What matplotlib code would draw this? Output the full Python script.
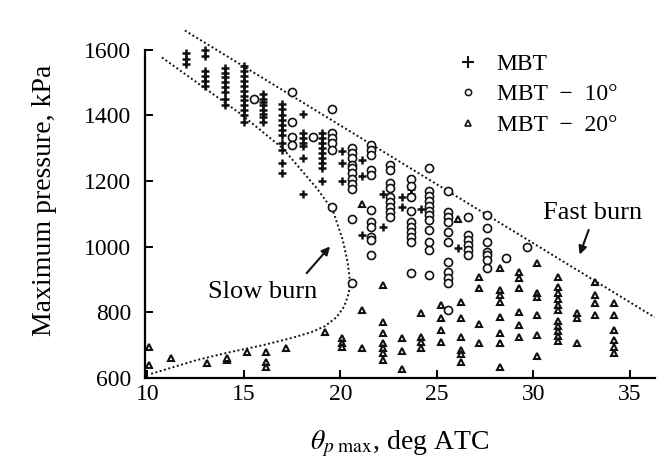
import matplotlib.pyplot as plt
from matplotlib.lines import Line2D

# MBT timing (crosses): column x and pressures in that column
mbt_x = [12.0, 13.0, 14.0, 15.0, 16.0, 17.0, 18.05, 19.05, 20.1, 21.1, 22.2, 23.2, 23.65, 24.2, 26.1]
mbt_p = [
    [1590, 1570, 1555],
    [1600, 1580, 1535, 1520, 1505, 1490],
    [1545, 1530, 1515, 1500, 1485, 1470, 1450, 1430],
    [1550, 1535, 1520, 1505, 1490, 1475, 1460, 1445, 1430, 1415, 1400, 1380],
    [1465, 1450, 1440, 1430, 1415, 1405, 1395, 1380],
    [1435, 1420, 1400, 1385, 1370, 1355, 1340, 1315, 1295, 1255, 1225],
    [1405, 1345, 1330, 1315, 1305, 1270, 1160],
    [1345, 1330, 1315, 1300, 1285, 1270, 1255, 1240, 1200],
    [1290, 1255, 1200],
    [1265, 1215, 1035],
    [1160, 1060],
    [1150, 1120],
    [1175, 1160],
    [1115],
    [995],
]

# MBT - 10 deg (circles)
m10_x = [15.5, 17.5, 18.6, 19.55, 20.6, 21.6, 22.6, 23.65, 24.6, 25.6, 26.6, 27.6, 28.6, 29.7]
m10_p = [
    [1450],
    [1470, 1380, 1335, 1310],
    [1333],
    [1420, 1345, 1330, 1315, 1295, 1120],
    [1300, 1285, 1270, 1250, 1240, 1225, 1205, 1190, 1175, 1083, 888],
    [1310, 1295, 1280, 1232, 1217, 1113, 1074, 1059, 1029, 1020, 974],
    [1248, 1232, 1193, 1178, 1150, 1135, 1120, 1105, 1090],
    [1205, 1185, 1150, 1110, 1074, 1059, 1044, 1029, 1013, 919],
    [1238, 1170, 1155, 1140, 1125, 1110, 1095, 1080, 1050, 1013, 990, 913],
    [1171, 1105, 1090, 1075, 1045, 1013, 953, 922, 905, 890, 807],
    [1089, 1035, 1020, 1004, 989, 974],
    [1095, 1056, 1013, 983, 974, 959, 934],
    [965],
    [998],
]

# MBT - 20 deg (triangles)
m20_x = [10.1, 11.2, 13.1, 14.1, 15.15, 16.15, 17.2, 19.2, 20.1, 21.15, 22.2, 23.2, 24.2,
         25.2, 26.1, 26.25, 27.2, 28.3, 29.25, 30.2, 31.3, 32.25, 33.2, 34.2]
m20_p = [
    [694, 640],
    [661],
    [646],
    [655, 662],
    [679],
    [679, 649, 633],
    [691],
    [740],
    [722, 706, 694],
    [1130, 807, 691],
    [883, 770, 737, 706, 691, 676, 655],
    [722, 682, 627],
    [797, 725, 709, 691],
    [822, 782, 746, 709],
    [1083],
    [831, 782, 725, 685, 673, 649],
    [907, 874, 764, 706],
    [934, 867, 852, 831, 785, 737, 706, 633],
    [922, 904, 874, 801, 761, 725],
    [950, 858, 846, 792, 731, 668],
    [907, 877, 858, 840, 822, 807, 773, 758, 743, 728, 712],
    [797, 782, 706],
    [892, 852, 828, 792],
    [828, 792, 746, 716, 694, 676],
]

# boundary curves
fast_x = [11.94, 36.3]
fast_p = [1658, 785]
slow_x = [10.75, 14.79, 17.02, 18.78, 19.61, 20.13, 20.39, 20.5, 20.45, 20.2, 19.8, 19.2,
          18.5, 17.6, 15.98, 14.27, 12.56, 10.13]
slow_p = [1576, 1406, 1299, 1178, 1111, 1020, 950, 895, 860, 818, 785, 758, 740, 724, 700,
          679, 655, 612]

x_ticks = [10, 15, 20, 25, 30, 35]
y_ticks = [600, 800, 1000, 1200, 1400, 1600]


def flat(xs, ps):
    fx, fp = [], []
    for x, col in zip(xs, ps):
        for p in col:
            fx.append(x)
            fp.append(p)
    return fx, fp


plt.rcParams['font.family'] = ['Liberation Serif', 'DejaVu Serif']
plt.rcParams['mathtext.fontset'] = 'stix'

fig = plt.figure(figsize=(6.68, 4.75), dpi=100)
ax = fig.add_axes([0.217, 0.204, 0.763, 0.747])

ink = '#111111'
dots = (0, (1, 1.3))
ax.plot(fast_x, fast_p, color=ink, lw=1.4, linestyle=dots)
ax.plot(slow_x, slow_p, color=ink, lw=1.4, linestyle=dots)

x, p = flat(mbt_x, mbt_p)
ax.plot(x, p, '+', color=ink, ms=6, mew=1.8, linestyle='none')
x, p = flat(m10_x, m10_p)
ax.plot(x, p, 'o', color=ink, mfc='white', ms=5.8, mew=1.2, linestyle='none')
x, p = flat(m20_x, m20_p)
ax.plot(x, p, '^', color=ink, mfc='white', ms=5, mew=1.5, linestyle='none')

# annotations
ax.text(15.98, 861, 'Slow burn', fontsize=19, ha='center', va='center')
ax.annotate('', xy=(19.56, 1007), xytext=(18.16, 913),
            arrowprops=dict(arrowstyle='-|>', lw=1.5, color=ink, mutation_scale=12))
ax.text(33.08, 1102, 'Fast burn', fontsize=19, ha='center', va='center')
ax.annotate('', xy=(32.36, 968), xytext=(32.93, 1059),
            arrowprops=dict(arrowstyle='-|>', lw=1.5, color=ink, mutation_scale=12))

handles = [
    Line2D([], [], marker='+', color=ink, ms=9, mew=1.5, linestyle='none'),
    Line2D([], [], marker='o', color=ink, mfc='white', ms=4.5, mew=1.1, linestyle='none'),
    Line2D([], [], marker='^', color=ink, mfc='white', ms=3.8, mew=1.2, linestyle='none'),
]
labels = ['MBT', 'MBT  \u2212  10\u00b0', 'MBT  \u2212  20\u00b0']
ax.legend(handles, labels, loc='upper left', bbox_to_anchor=(0.565, 0.975), frameon=False,
          fontsize=17, handletextpad=0.6, labelspacing=0.38, handlelength=1.2)

ax.set_xlim(9.87, 36.3)
ax.set_ylim(600, 1680)
ax.set_xticks(x_ticks)
ax.set_yticks(y_ticks)
ax.spines['top'].set_visible(False)
ax.spines['right'].set_visible(False)
ax.spines['left'].set_bounds(600, 1600)
for s in ('left', 'bottom'):
    ax.spines[s].set_linewidth(1.6)
ax.tick_params(direction='in', length=6, width=1.4, labelsize=17)
ax.tick_params(axis='y', pad=10)
ax.tick_params(axis='x', pad=4)

ax.set_ylabel('Maximum pressure, kPa', fontsize=20, labelpad=19)
ax.set_xlabel(r'$\theta_{p\ \mathrm{max}}$, deg ATC', fontsize=20, labelpad=17)

fig.savefig('out.png', dpi=100)
